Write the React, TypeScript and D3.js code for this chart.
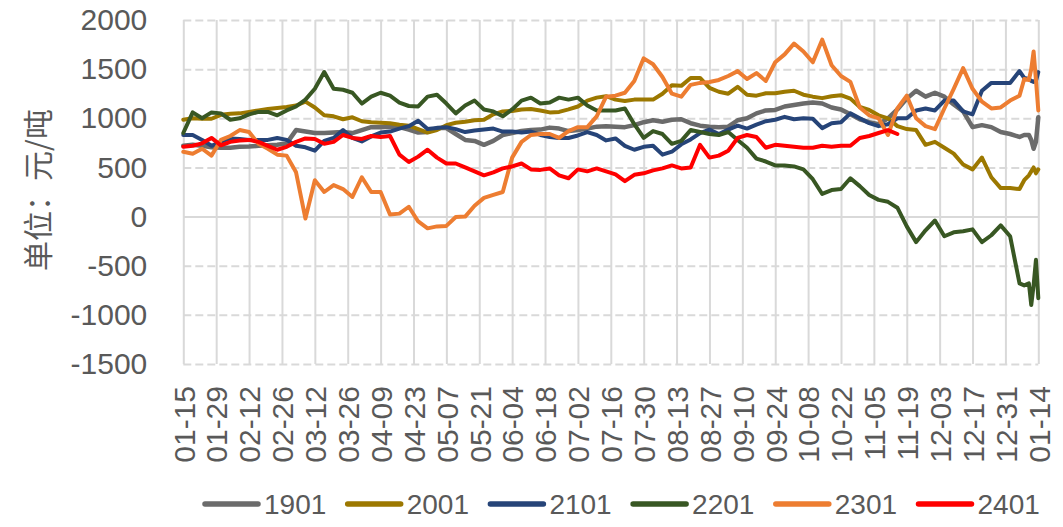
import React, { useRef, useEffect } from 'react';
import * as d3 from 'd3';

// --- DATA ---
const seriesNames = ["1901", "2001", "2101", "2201", "2301", "2401"];
const seriesColors = ["#6B6B6B", "#9C7800", "#264478", "#385723", "#ED7D31", "#FF0000"];

const tickLabels = [
  "01-15", "01-29", "02-12", "02-26", "03-12", "03-26", "04-09", "04-23", "05-07",
  "05-21", "06-04", "06-18", "07-02", "07-16", "07-30", "08-13", "08-27", "09-10",
  "09-24", "10-08", "10-22", "11-05", "11-19", "12-03", "12-17", "12-31", "01-14",
];
const yTicks = [-1500, -1000, -500, 0, 500, 1000, 1500, 2000];

const sampleDays = [
  0, 4, 8, 12, 16, 20, 24, 28, 32, 36, 40, 44, 48, 52, 56, 60, 64, 68, 72, 76, 80, 84, 88, 92,
  96, 100, 104, 108, 112, 116, 120, 124, 128, 132, 136, 140, 144, 148, 152, 156, 160, 164, 168, 172, 176, 180,
  184, 188, 192, 196, 200, 204, 208, 212, 216, 220, 224, 228, 232, 236, 240, 244, 248, 252, 256, 260, 264, 268,
  272, 276, 280, 284, 288, 292, 296, 300, 304, 308, 312, 316, 320, 324, 328, 332, 336, 340, 344, 348, 352, 356,
  358, 360, 361, 362, 363, 364,
];

const s1901 = [
  720, 730, 720, 705, 700, 700, 710, 712, 720, 725, 730, 745, 880, 865, 850, 850, 855, 860, 850, 880, 910, 910, 915, 910,
  885, 855, 860, 900, 900, 840, 780, 770, 730, 770, 830, 850, 870, 880, 885, 905, 895, 870, 880, 895, 915, 920,
  915, 910, 930, 960, 980, 965, 985, 990, 950, 925, 915, 910, 915, 980, 1000, 1050, 1080, 1085, 1120, 1135, 1150, 1160,
  1150, 1110, 1090, 1040, 990, 960, 940, 1000, 1090, 1200, 1280, 1220, 1260, 1220, 1140, 1070, 910, 930, 910, 860, 840, 810,
  830, 830, 780, 690, 760, 1010,
];
const s2001 = [
  985, 1000, 995, 995, 1035, 1045, 1050, 1065, 1080, 1095, 1105, 1115, 1130, 1170, 1110, 1030, 1020, 990, 1010, 970, 960, 955, 950, 935,
  925, 890, 855, 880, 930, 955, 965, 980, 985, 1040, 1070, 1075, 1090, 1095, 1080, 1060, 1065, 1090, 1120, 1180, 1210, 1225,
  1190, 1175, 1190, 1190, 1190, 1250, 1335, 1330, 1410, 1410, 1310, 1270, 1250, 1320, 1240, 1230, 1255, 1255, 1270, 1280, 1240, 1220,
  1205, 1225, 1235, 1200, 1115, 1085, 1030, 1000, 920, 890, 880, 730, 760, 700, 640, 530, 480, 600, 400, 290, 290, 280,
  370, 420, 460, 500, 440, 480,
];
const s2101 = [
  830, 830, 780, 720, 760, 795, 790, 780, 780, 780, 800, 780, 720, 705, 670, 770, 800, 880, 800, 765, 815, 855, 865, 895,
  920, 975, 890, 900, 910, 890, 860, 875, 885, 895, 865, 865, 855, 865, 830, 810, 800, 800, 825, 860, 830, 775,
  795, 720, 680, 710, 720, 630, 660, 735, 785, 850, 885, 840, 885, 925, 895, 935, 970, 985, 1015, 990, 1000, 995,
  900, 950, 960, 1050, 1000, 950, 920, 940, 1000, 1000, 1080, 1100, 1080, 1180, 1180, 1070, 1040, 1280, 1360, 1360, 1360, 1480,
  1410, 1400, 1380, 1370, 1380, 1470,
];
const s2201 = [
  850, 1060, 1000, 1060, 1050, 985, 1000, 1040, 1065, 1065, 1030, 1080, 1120, 1190, 1300, 1470, 1300, 1290, 1260, 1150, 1220, 1260, 1230, 1160,
  1125, 1120, 1220, 1240, 1150, 1050, 1130, 1180, 1090, 1070, 1020, 1090, 1180, 1210, 1150, 1160, 1210, 1190, 1210, 1130, 1080, 1080,
  1080, 1100, 940, 800, 870, 840, 740, 770, 880, 860, 840, 830, 860, 780, 700, 590, 560, 520, 520, 510, 480, 380,
  230, 270, 280, 390, 310, 220, 170, 150, 90, -100, -260, -140, -40, -200, -160, -150, -130, -260, -190, -90, -200, -680,
  -700, -680, -900, -700, -440, -830,
];
const s2301 = [
  660, 640, 690, 620, 780, 820, 880, 860, 740, 690, 630, 620, 450, -20, 370, 250, 320, 280, 200, 400, 250, 250, 20, 30,
  100, -50, -120, -100, -95, -5, 0, 110, 190, 220, 250, 600, 760, 830, 840, 840, 800, 870, 910, 910, 1020, 1220,
  1230, 1260, 1380, 1610, 1550, 1420, 1250, 1220, 1340, 1360, 1370, 1390, 1430, 1480, 1400, 1460, 1380, 1570, 1650, 1760, 1680, 1570,
  1800, 1540, 1430, 1370, 1110, 1030, 1000, 830, 1100, 1230, 1000, 920, 890, 1100, 1300, 1510, 1300, 1170, 1100, 1110, 1180, 1230,
  1400, 1390, 1500, 1680, 1390, 1080,
];
const s2401 = [
  710, 720, 745, 800, 725, 760, 775, 780, 760, 720, 680, 710, 760, 795, 790, 740, 760, 830, 800, 790, 820, 810, 820, 630,
  555, 610, 680, 600, 540, 540, 500, 460, 420, 450, 490, 510, 540, 480, 475, 490, 420, 390, 480, 460, 490, 460,
  430, 360, 425, 440, 470, 490, 520, 490, 500, 730, 600, 620, 670, 800, 830, 810, 700, 730, 720, 710, 700, 700,
  720, 710, 720, 720, 800, 820, 850, 880, 840, null, null, null, null, null, null, null, null, null, null, null, null, null,
  null, null, null, null, null, null,
];

const seriesValues = [s1901, s2001, s2101, s2201, s2301, s2401];

export default function App() {
  const svgRef = useRef<SVGSVGElement>(null);

  useEffect(() => {
    if (!svgRef.current) return;

    const W = 1063;
    const H = 527;
    const margin = { top: 20, left: 183.3, right: 1038.3, bottom: 364 };
    const textColor = "#595959";
    const gridColor = "#D9D9D9";
    const latin = "'Liberation Sans', Arial, sans-serif";

    const svg = d3.select(svgRef.current);
    svg.selectAll("*").remove();
    svg.attr("width", W).attr("height", H);

    // every calendar day from 01-15 to the next 01-14 is one category
    const fmt = d3.timeFormat("%m-%d");
    const categories = d3.timeDay.range(new Date(2023, 0, 15), new Date(2024, 0, 15)).map(d => fmt(d));

    const x = d3.scalePoint<string>().domain(categories).range([margin.left, margin.right]);
    const y = d3.scaleLinear().domain([-1500, 2000]).range([margin.bottom, margin.top]);

    // --- GRID ---
    const yGrid = svg.append("g")
      .attr("transform", `translate(${margin.left},0)`)
      .call(d3.axisLeft(y).tickValues(yTicks).tickSize(-(margin.right - margin.left)).tickFormat(() => ""));
    yGrid.select(".domain").remove();
    yGrid.selectAll(".tick line")
      .attr("stroke", gridColor)
      .attr("stroke-width", 2)
      .attr("stroke-dasharray", (d: any) => (d === 0 ? null : "8 4"));

    const xGrid = svg.append("g")
      .attr("transform", `translate(0,${margin.bottom})`)
      .call(d3.axisBottom(x).tickValues(tickLabels).tickSize(-(margin.bottom - margin.top)).tickFormat(() => ""));
    xGrid.select(".domain").remove();
    xGrid.selectAll(".tick line")
      .attr("stroke", gridColor)
      .attr("stroke-width", 2);

    // --- AXES ---
    const yAxis = svg.append("g")
      .attr("transform", `translate(${margin.left},0)`)
      .call(d3.axisLeft(y).tickValues(yTicks).tickSize(0).tickPadding(36).tickFormat(d => String(d)));
    yAxis.select(".domain").remove();
    yAxis.selectAll("text")
      .attr("fill", textColor)
      .style("font-size", "30px")
      .style("font-family", latin);

    const xAxis = svg.append("g")
      .attr("transform", `translate(0,${margin.bottom})`)
      .call(d3.axisBottom(x).tickValues(tickLabels).tickSize(0));
    xAxis.select(".domain").remove();
    xAxis.selectAll("text")
      .attr("transform", "rotate(-90)")
      .attr("x", -22)
      .attr("y", 0)
      .attr("dy", "0.36em")
      .attr("fill", textColor)
      .style("text-anchor", "end")
      .style("font-size", "30px")
      .style("font-family", latin);

    // Y axis title
    svg.append("text")
      .attr("transform", "translate(38,190) rotate(-90)")
      .attr("fill", textColor)
      .attr("dy", "0.35em")
      .style("text-anchor", "middle")
      .style("font-size", "30px")
      .style("font-family", "'Noto Sans CJK SC', sans-serif")
      .text("单位：元/吨");

    // --- LINES ---
    const line = d3.line<number | null>()
      .defined(v => v != null)
      .x((_, i) => x(categories[sampleDays[i]]) as number)
      .y(v => y(v as number));

    seriesValues.forEach((vals, k) => {
      svg.append("path")
        .datum(vals)
        .attr("fill", "none")
        .attr("stroke", seriesColors[k])
        .attr("stroke-width", k === 0 ? 4.5 : 4)
        .attr("stroke-linejoin", "round")
        .attr("stroke-linecap", "round")
        .attr("d", line);
    });

    // --- LEGEND ---
    const legend = svg.append("g").attr("transform", "translate(203,504)");
    seriesNames.forEach((name, k) => {
      const g = legend.append("g").attr("transform", `translate(${k * 142.7},0)`);
      g.append("line")
        .attr("x1", 2).attr("x2", 55)
        .attr("stroke", seriesColors[k])
        .attr("stroke-width", 5.5)
        .attr("stroke-linecap", "round");
      g.append("text")
        .attr("x", 61)
        .attr("dy", "0.36em")
        .attr("fill", textColor)
        .style("font-size", "28px")
        .style("font-family", latin)
        .text(name);
    });
  }, []);

  return (
    <div style={{ position: "absolute", left: 0, top: 0 }}>
      <svg ref={svgRef} style={{ display: "block" }}></svg>
    </div>
  );
}
